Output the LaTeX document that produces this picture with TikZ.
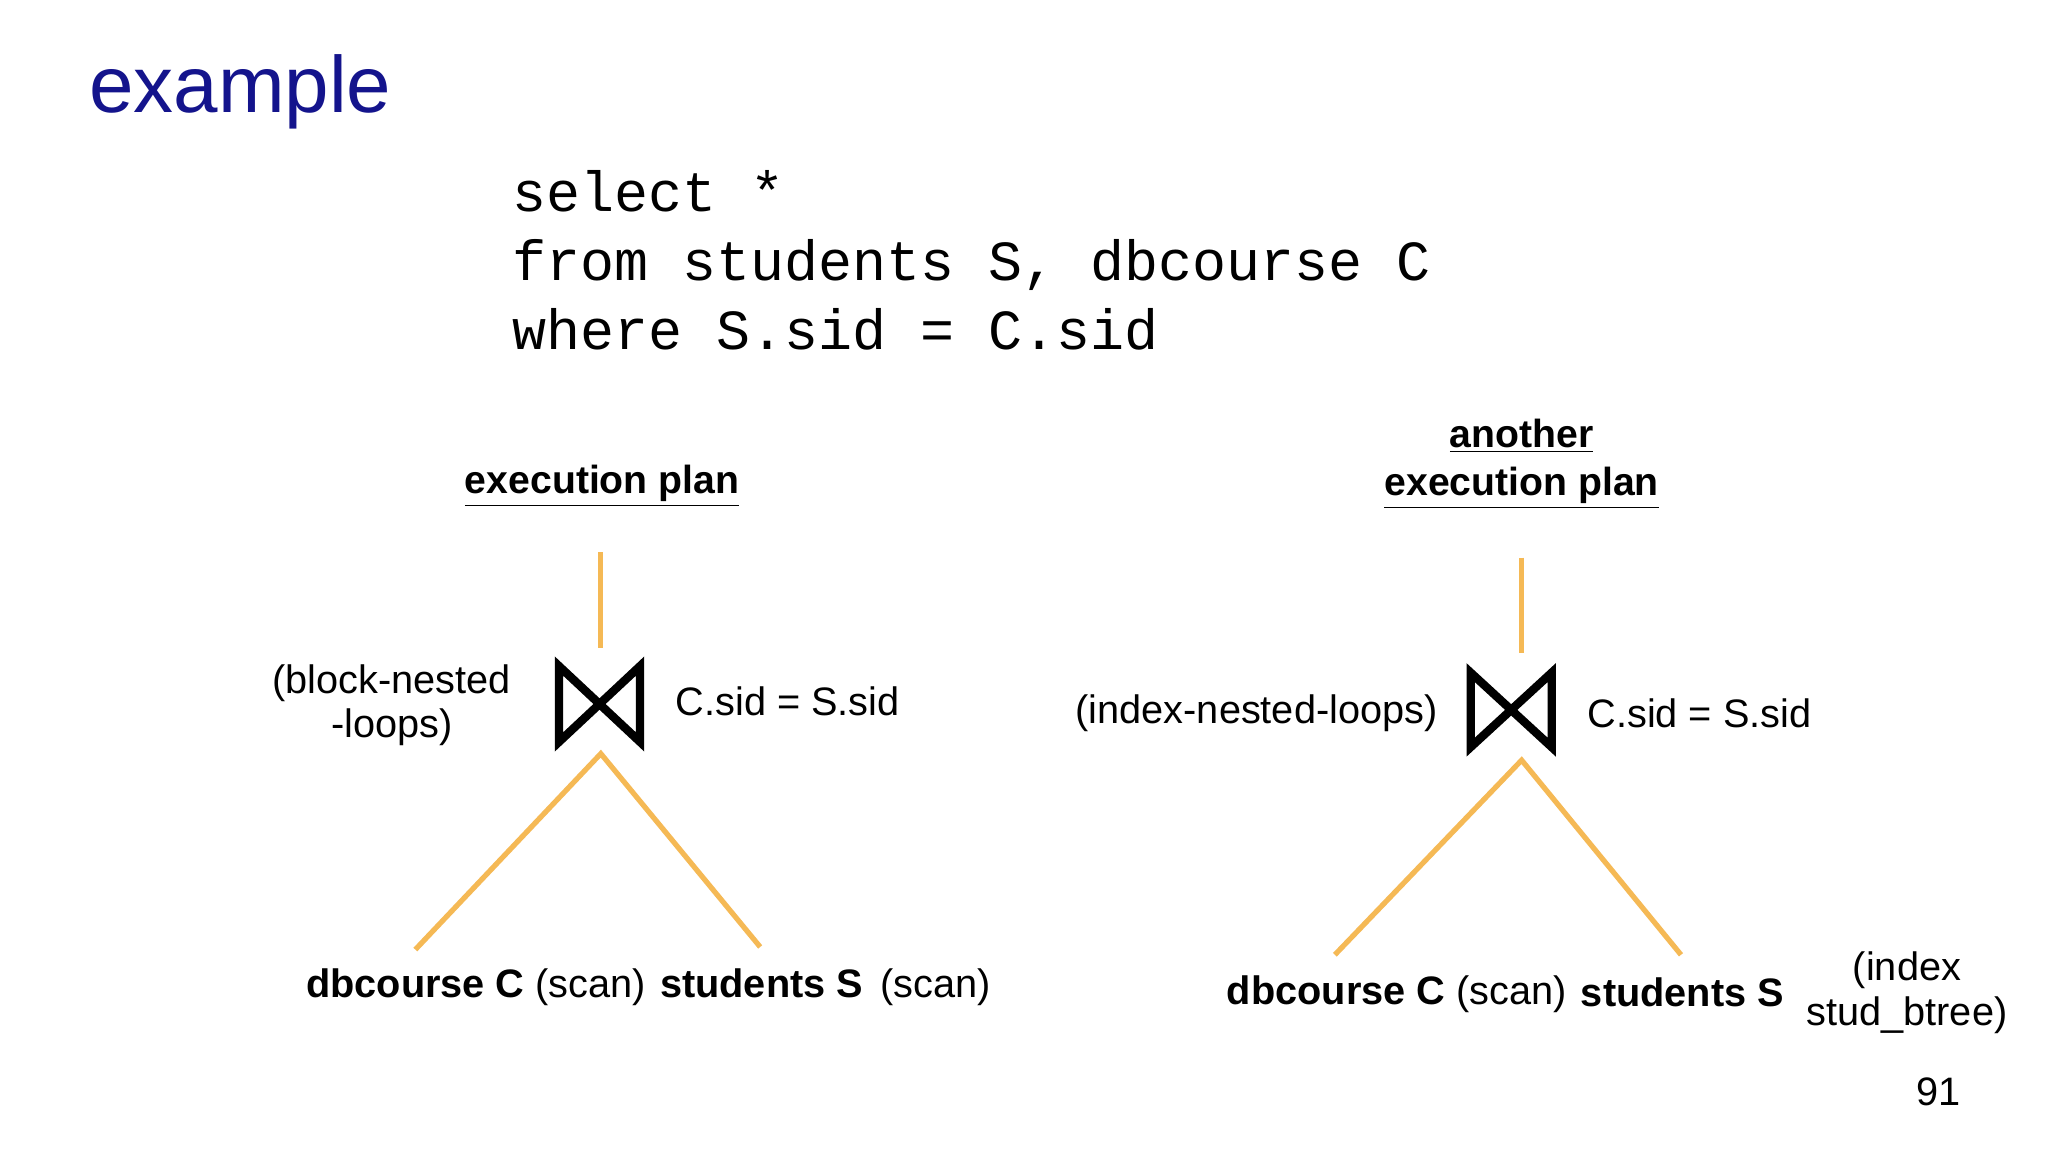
\documentclass[tikz,border=0pt]{standalone}
\usepackage{fontspec}
\setmainfont{Liberation Sans}
\newfontfamily\codefont{Liberation Mono}
\definecolor{titleblue}{RGB}{20,20,140}
\definecolor{edgeor}{RGB}{245,185,85}
\begin{document}
\begin{tikzpicture}[x=0.5pt,y=-0.5pt,
  lbl/.style={font=\fontsize{15.2}{17}\selectfont,align=center,inner sep=0pt},
  hdr/.style={font=\bfseries\fontsize{15}{17.5}\selectfont,align=center,inner sep=0pt},
  edge/.style={edgeor,line width=2pt},
  bow/.style={line width=3.2pt,line join=miter}]
\fill[white] (0,0) rectangle (1568,882);
\useasboundingbox (0,0) rectangle (1568,882);
\node[anchor=west,text=titleblue,font=\fontsize{30.6}{34}\selectfont,inner sep=0pt] (title) at (68,70) {example};
\node[anchor=north west,align=left,inner sep=0pt,font=\codefont\fontsize{21.7}{26.5}\selectfont] (sql) at (392,130) {select *\\from students S, dbcourse C\\where S.sid = C.sid};
% left plan
\node[hdr] (h1) at (461,372) {\underline{execution plan}};
\coordinate (t1) at (460,423);
\coordinate (j1t) at (460,496);
\draw[bow] (428,510) -- (490,568) -- (490,510) -- (428,568) -- cycle;
\coordinate (j1) at (460,577);
\coordinate (l1) at (318,727);
\coordinate (r1) at (582,725);
\draw[edge] (t1) -- (j1t);
\draw[edge] (l1) -- (j1) -- (r1);
\node[lbl] (alg1) at (300,540) {(block-nested\\-loops)};
\node[lbl,anchor=west] (cond1) at (517,537) {C.sid = S.sid};
\node[lbl,anchor=west] (leaf1) at (234,756) {\textbf{dbcourse C} (scan)};
\node[lbl,anchor=west] (leaf2) at (505,756) {\textbf{students S} \,(scan)};
% right plan
\node[hdr] (h2) at (1165,355) {\underline{another}\\[1pt]\underline{execution plan}};
\coordinate (t2) at (1165,427);
\coordinate (j2t) at (1165,500);
\draw[bow] (1126,515) -- (1188,572) -- (1188,515) -- (1126,572) -- cycle;
\coordinate (j2) at (1165,582);
\coordinate (l2) at (1022,731);
\coordinate (r2) at (1287,731);
\draw[edge] (t2) -- (j2t);
\draw[edge] (l2) -- (j2) -- (r2);
\node[lbl,anchor=east] (alg2) at (1101,546) {(index-nested-loops)};
\node[lbl,anchor=west] (cond2) at (1215,546) {C.sid = S.sid};
\node[lbl,anchor=west] (leaf3) at (939,761) {\textbf{dbcourse C} (scan)};
\node[lbl,anchor=west] (leaf4) at (1210,760) {\textbf{students S}};
\node[lbl] (idx) at (1460,760) {(index\\stud\_btree)};
\node[lbl] (pg) at (1484,836) {91};
\end{tikzpicture}
\end{document}
